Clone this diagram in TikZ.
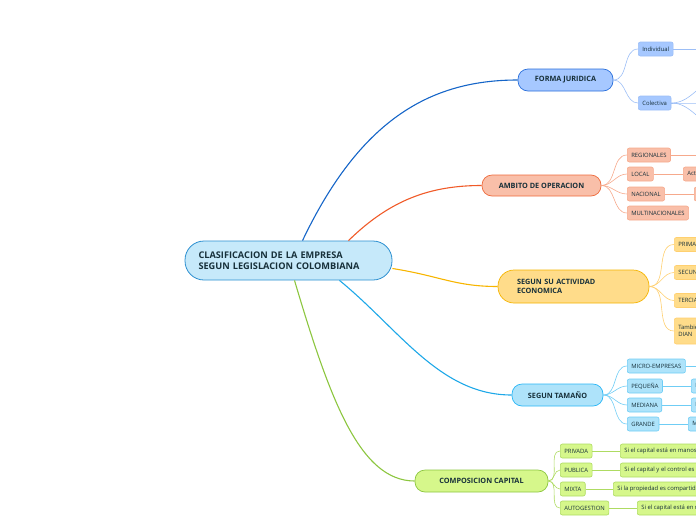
\documentclass[tikz,border=0pt]{standalone}
\usepackage{fontspec}
\setmainfont{Open Sans}
\usetikzlibrary{positioning}
\definecolor{ink}{HTML}{17303A}
\definecolor{rootfill}{HTML}{C6E9FA}
\definecolor{rootborder}{HTML}{2B8FD0}
\definecolor{fjfill}{HTML}{A6C8FF}
\definecolor{fjborder}{HTML}{2A6FDB}
\definecolor{fjline}{HTML}{1565C8}
\definecolor{fjsub}{HTML}{9CBEF6}
\definecolor{aofill}{HTML}{F9BFA9}
\definecolor{aoborder}{HTML}{EE6A3C}
\definecolor{aoline}{HTML}{F05A28}
\definecolor{aosub}{HTML}{F6A98C}
\definecolor{aefill}{HTML}{FFDC8A}
\definecolor{aeborder}{HTML}{F5B400}
\definecolor{aeline}{HTML}{F7B500}
\definecolor{aesub}{HTML}{FFD070}
\definecolor{tmfill}{HTML}{AEE3FA}
\definecolor{tmborder}{HTML}{29B6F6}
\definecolor{tmline}{HTML}{1EA8E8}
\definecolor{tmsub}{HTML}{6FCDF5}
\definecolor{ccfill}{HTML}{D6F78B}
\definecolor{ccborder}{HTML}{8CC63F}
\definecolor{ccline}{HTML}{8CC63F}
\definecolor{ccsub}{HTML}{AEDB62}
\begin{document}
\begin{tikzpicture}[x=1pt,y=-1pt,every node/.style={font=\fontsize{5.9}{7}\selectfont,text=ink},
  root/.style={draw=rootborder,fill=rootfill,line width=0.8pt,rounded corners=19pt,
    minimum width=207pt,minimum height=39pt,align=left,text width=180pt,
    font=\bfseries\fontsize{9.2}{11.5}\selectfont},
  topic/.style={draw=#1border,fill=#1fill,line width=0.7pt,rounded corners=10pt,
    minimum height=22pt,font=\bfseries\fontsize{7.3}{9.6}\selectfont},
  leaf/.style={draw=#1sub,fill=#1fill,line width=0.6pt,rounded corners=2pt,anchor=west,
    minimum height=14pt,inner xsep=4pt,inner ysep=1pt,align=left},
  main/.style={line width=1.1pt},
  twig/.style={line width=0.6pt}]
  \useasboundingbox (0,0) rectangle (696,520);
  % centre
  \node[root] (clasif) at (288.5,260.5) {CLASIFICACION DE LA EMPRESA\\SEGUN LEGISLACION COLOMBIANA};
  % main topics
  \node[topic=fj,minimum width=95pt] (forma) at (565.5,80) {FORMA JURIDICA};
  \node[topic=ao,minimum width=119pt,minimum height=21pt] (ambito) at (541.5,185.5) {AMBITO DE OPERACION};
  \node[topic=ae,minimum width=151pt,minimum height=33pt,rounded corners=16pt,align=left,
    text width=113pt] (activ) at (573.5,286.5) {SEGUN SU ACTIVIDAD\\ECONOMICA};
  \node[topic=tm,minimum width=91pt] (tamano) at (557.5,395) {SEGUN TAMAÑO};
  \node[topic=cc,minimum width=133pt] (compos) at (481.5,481) {COMPOSICION CAPITAL};
  \draw[main,fjline] ([xshift=14pt]clasif.north) .. controls (360,120) and (430,80) .. (forma.west);
  \draw[main,aoline] ([xshift=60pt]clasif.north) .. controls (390,200) and (430,185.5) .. (ambito.west);
  \draw[main,aeline] ([yshift=-8pt]clasif.east) .. controls (440,276) and (455,286.5) .. (activ.west);
  \draw[main,tmline] ([xshift=51pt]clasif.south) .. controls (400,330) and (440,395) .. (tamano.west);
  \draw[main,ccline] ([xshift=6pt]clasif.south) .. controls (330,400) and (360,481) .. (compos.west);
  % forma juridica
  \node[leaf=fj] (indiv) at (638,49) {Individual};
  \node[leaf=fj] (colec) at (638,103) {Colectiva};
  \coordinate (indivx) at (720,49);
  \coordinate (colec1) at (720,80);
  \coordinate (colec2) at (720,103);
  \coordinate (colec3) at (720,126);
  \foreach \k in {indiv,colec} \draw[twig,fjsub] (forma.east) to[out=0,in=180] (\k.west);
  \draw[twig,fjsub] (indiv.east) -- (indivx);
  \foreach \k in {colec1,colec2,colec3} \draw[twig,fjsub] (colec.east) to[out=0,in=180] (\k);
  % ambito de operacion
  \node[leaf=ao] (region) at (627,155) {REGIONALES};
  \node[leaf=ao] (local) at (627,174) {LOCAL};
  \node[leaf=ao] (nacion) at (627,194) {NACIONAL};
  \node[leaf=ao] (multi) at (627,213) {MULTINACIONALES};
  \node[leaf=ao] (localx) at (683,174) {Actividad en un municipio};
  \node[leaf=ao] (nacionx) at (694,194) {En todo el país};
  \coordinate (regionx) at (720,155);
  \foreach \k in {region,local,nacion,multi} \draw[twig,aosub] (ambito.east) to[out=0,in=180] (\k.west);
  \draw[twig,aosub] (region.east) -- (regionx);
  \draw[twig,aosub] (local.east) -- (localx.west);
  \draw[twig,aosub] (nacion.east) -- (nacionx.west);
  % actividad economica
  \node[leaf=ae] (prim) at (674,244.5) {PRIMARIA};
  \node[leaf=ae] (secu) at (674,272.5) {SECUNDARIA};
  \node[leaf=ae] (terc) at (674,300.5) {TERCIARIA};
  \node[leaf=ae,minimum height=26pt] (dian) at (674,331) {También según la\\DIAN};
  \foreach \k in {prim,secu,terc,dian} \draw[twig,aesub] (activ.east) to[out=0,in=180] (\k.west);
  % tamano
  \node[leaf=tm] (micro) at (627,366) {MICRO-EMPRESAS};
  \node[leaf=tm] (peque) at (627,386) {PEQUEÑA};
  \node[leaf=tm] (media) at (627,405) {MEDIANA};
  \node[leaf=tm] (grande) at (627,424) {GRANDE};
  \node[leaf=tm] (pequex) at (691,386) {Entre 11 y 50 trabajadores};
  \node[leaf=tm] (mediax) at (691,405) {Entre 51 y 200 trabajadores};
  \node[leaf=tm] (grandex) at (688,424) {Más de 200 trabajadores};
  \coordinate (microx) at (720,366);
  \foreach \k in {micro,peque,media,grande} \draw[twig,tmsub] (tamano.east) to[out=0,in=180] (\k.west);
  \draw[twig,tmsub] (micro.east) -- (microx);
  \draw[twig,tmsub] (peque.east) -- (pequex.west);
  \draw[twig,tmsub] (media.east) -- (mediax.west);
  \draw[twig,tmsub] (grande.east) -- (grandex.west);
  % composicion capital
  \node[leaf=cc] (priv) at (560,451) {PRIVADA};
  \node[leaf=cc] (publ) at (560,470) {PUBLICA};
  \node[leaf=cc] (mixt) at (560,489) {MIXTA};
  \node[leaf=cc] (auto) at (560,508) {AUTOGESTION};
  \node[leaf=cc] (privx) at (620,451) {Si el capital está en manos de particulares};
  \node[leaf=cc] (publx) at (620,470) {Si el capital y el control es del Estado};
  \node[leaf=cc] (mixtx) at (613,489) {Si la propiedad es compartida};
  \node[leaf=cc] (autox) at (637,508) {Si el capital está en manos de los trabajadores};
  \foreach \k in {priv,publ,mixt,auto} \draw[twig,ccsub] (compos.east) to[out=0,in=180] (\k.west);
  \foreach \k in {priv,publ,mixt,auto} \draw[twig,ccsub] (\k.east) -- (\k x.west);
\end{tikzpicture}
\end{document}
